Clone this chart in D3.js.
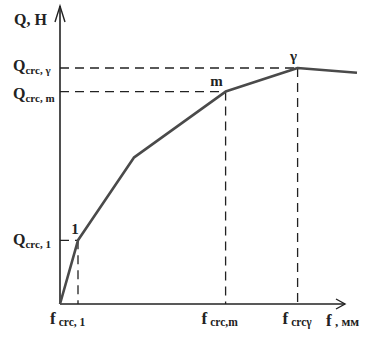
<!DOCTYPE html>
<html><head><meta charset="utf-8">
<script src="https://cdn.jsdelivr.net/npm/d3@7"></script>
<style>body{margin:0;background:#fff}svg{display:block}</style>
</head><body>
<svg id="c" width="370" height="338"></svg>
<script>
// Deformation f (arbitrary units) and load Q (arbitrary units)
const fVals = [0, 1.0, 4.1, 9.2, 13.2, 16.5];
const qVals = [0, 2.7, 6.2, 9.0, 10.0, 9.8];
const pointLabels = [null, "1", null, "m", "γ", null];
const markedIdx = [1, 3, 4];
const yTickLabels = [{main:"Q", sub:"crc, 1", i:1}, {main:"Q", sub:"crc, m", i:3}, {main:"Q", sub:"crc, γ", i:4}];
const xTickLabels = [{main:"f", sub:"crc, 1", i:1}, {main:"f", sub:"crc,m", i:3}, {main:"f", sub:"crcγ", i:4}];

const svg = d3.select("#c");
const x = d3.scaleLinear().domain([0, 16.5]).range([60, 357]);
const y = d3.scaleLinear().domain([0, 12.5]).range([304, 9]);
const col = "#4a4a4a";
const font = "'Liberation Serif','Times New Roman',serif";

// axes
const xAxis = d3.axisBottom(x).tickValues([]).tickSize(0);
const yAxis = d3.axisLeft(y).tickValues([]).tickSize(0);
const gx = svg.append("g").attr("transform", `translate(0,${y(0)})`).call(xAxis);
gx.select(".domain").attr("d", `M${x(0)},0H345`).attr("stroke", "#222").attr("stroke-width", 1.6);
const gy = svg.append("g").attr("transform", `translate(${x(0)},0)`).call(yAxis);
gy.select(".domain").attr("d", `M0,${y(0)}V6`).attr("stroke", "#222").attr("stroke-width", 1.6);
// arrowheads
svg.append("path").attr("d", `M${x(0)-5},22L${x(0)},6L${x(0)+5},22`).attr("fill","none").attr("stroke","#222").attr("stroke-width",1.4);
svg.append("path").attr("d", `M336,${y(0)-5}L345,${y(0)}L336,${y(0)+5}`).attr("fill","none").attr("stroke","#222").attr("stroke-width",1.4);

// dashed guide lines
markedIdx.forEach(i => {
  svg.append("line").attr("x1", x(0)).attr("x2", x(fVals[i])).attr("y1", y(qVals[i])).attr("y2", y(qVals[i]))
    .attr("stroke", "#222").attr("stroke-width", 1.3).attr("stroke-dasharray", "9,6");
  svg.append("line").attr("x1", x(fVals[i])).attr("x2", x(fVals[i])).attr("y1", y(qVals[i])).attr("y2", y(0))
    .attr("stroke", "#222").attr("stroke-width", 1.3).attr("stroke-dasharray", "9,6");
});

// curve
const line = d3.line().x((d,i)=>x(fVals[i])).y((d,i)=>y(qVals[i]));
svg.append("path").datum(fVals).attr("d", line).attr("fill","none").attr("stroke", col).attr("stroke-width", 2.6).attr("stroke-linejoin","round");

// point labels
const plOff = {1:[-3,-6], 3:[-9,-6], 4:[-4,-7]};
pointLabels.forEach((t,i) => {
  if (!t) return;
  svg.append("text").attr("x", x(fVals[i]) + plOff[i][0]).attr("y", y(qVals[i]) + plOff[i][1])
    .attr("font-family", font).attr("font-size", 15).attr("font-weight", "bold").attr("fill", "#222").attr("text-anchor","middle").text(t);
});

// axis titles
svg.append("text").attr("x", 14).attr("y", 25).attr("font-family", font).attr("font-size", 16).attr("font-weight","bold").attr("fill","#222").text("Q, H");
const ft = svg.append("text").attr("x", 326).attr("y", 326).attr("font-family", font).attr("font-weight","bold").attr("fill","#222");
ft.append("tspan").attr("font-size", 17).text("f");
ft.append("tspan").attr("font-size", 13).text(" , мм");

// y tick labels
const yOff = {1:5, 3:7, 4:3};
yTickLabels.forEach(d => {
  const t = svg.append("text").attr("x", 13).attr("y", y(qVals[d.i]) + yOff[d.i]).attr("font-family", font).attr("fill","#222").attr("font-weight","bold");
  t.append("tspan").attr("font-size", 16).text(d.main);
  t.append("tspan").attr("font-size", 11).attr("dy", 3).text(d.sub);
});
// x tick labels
const xOff = {1:-28, 3:-24, 4:-15};
xTickLabels.forEach(d => {
  const t = svg.append("text").attr("x", x(fVals[d.i]) + xOff[d.i]).attr("y", 324).attr("font-family", font).attr("fill","#222").attr("font-weight","bold");
  t.append("tspan").attr("font-size", 17).text(d.main);
  t.append("tspan").attr("font-size", 11.5).attr("dx", 3).attr("dy", 2).text(d.sub);
});
</script>
</body></html>
